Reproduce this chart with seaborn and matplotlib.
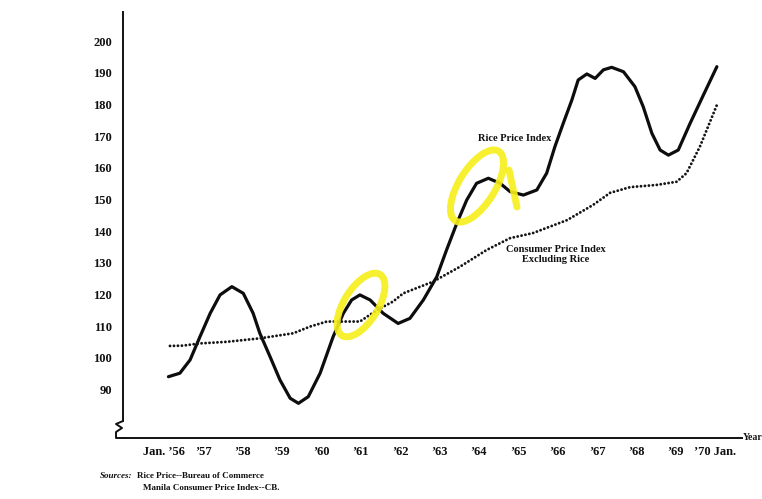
import seaborn as sns
import matplotlib.pyplot as plt
from matplotlib.patches import Ellipse
from matplotlib.transforms import Affine2D

# values (x = decimal year, y = index)
rice_year = [1956.62, 1956.91, 1957.17, 1957.42, 1957.68, 1957.93, 1958.23, 1958.52,
             1958.77, 1958.94, 1959.20, 1959.45, 1959.71, 1959.92, 1960.17, 1960.47,
             1960.80, 1961.06, 1961.27, 1961.48, 1961.74, 1962.07, 1962.45, 1962.75,
             1963.09, 1963.43, 1963.68, 1963.94, 1964.19, 1964.44, 1964.74, 1965.04,
             1965.29, 1965.63, 1965.97, 1966.22, 1966.43, 1966.64, 1966.86, 1967.02,
             1967.24, 1967.45, 1967.66, 1967.87, 1968.17, 1968.46, 1968.67, 1968.89,
             1969.10, 1969.31, 1969.56, 1969.86, 1970.20, 1970.54]
rice_index = [94.1, 95.2, 99.4, 106.7, 114.1, 119.9, 122.5, 120.4,
              114.1, 107.8, 100.4, 93.1, 87.3, 85.7, 87.8, 95.2,
              106.7, 114.1, 118.3, 119.9, 118.3, 114.1, 110.9, 112.5,
              118.3, 125.6, 134.1, 142.5, 149.8, 155.1, 156.7, 155.1,
              152.5, 151.4, 153.0, 158.3, 166.7, 174.0, 181.4, 187.7,
              189.6, 188.2, 190.9, 191.7, 190.3, 185.6, 179.3, 170.9,
              165.6, 164.0, 165.6, 174.0, 183.0, 191.9]

cpi_year = [1956.66, 1956.99, 1957.42, 1958.10, 1958.94, 1959.79, 1960.21, 1960.64,
            1961.48, 1961.91, 1962.32, 1962.58, 1963.34, 1964.02, 1964.70, 1965.29,
            1965.87, 1966.74, 1967.40, 1967.83, 1968.34, 1969.01, 1969.52, 1969.77,
            1970.11, 1970.54]
cpi_index = [103.8, 103.9, 104.6, 105.1, 106.2, 107.8, 109.9, 111.5,
             111.5, 115.1, 117.8, 120.4, 124.1, 128.8, 134.1, 137.8,
             139.4, 143.5, 148.3, 152.1, 153.9, 154.6, 155.6, 158.3,
             166.7, 179.8]

year_ticks = list(range(1956, 1972))
year_label_pos = [y + 0.5 for y in range(1956, 1971)]
year_labels = ["Jan. ’56", "’57", "’58", "’59", "’60", "’61", "’62", "’63",
               "’64", "’65", "’66", "’67", "’68", "’69", "’70 Jan."]
y_ticks = list(range(90, 201, 10))

sns.set_theme(style="white")
plt.rcParams["font.family"] = ["Liberation Serif", "DejaVu Serif"]

fig = plt.figure(figsize=(7.62, 4.99), dpi=100)
ax = fig.add_axes([123 / 762, 61 / 499, 619 / 762, 426 / 499])

sns.lineplot(x=rice_year, y=rice_index, color="#0d0d0d", linewidth=2.3,
             solid_joinstyle="round", solid_capstyle="round", ax=ax)
sns.lineplot(x=cpi_year, y=cpi_index, color="#151515", linewidth=2.1,
             linestyle=(0, (0.01, 1.35)), dash_capstyle="round", ax=ax)

ax.set_xlim(1955.467, 1971.178)
ax.set_ylim(74.76, 209.15)

for s in ["top", "right"]:
    ax.spines[s].set_visible(False)
for s in ["left", "bottom"]:
    ax.spines[s].set_color("#111111")
    ax.spines[s].set_linewidth(1.4)
ax.spines["left"].set_bounds(80.1, 209.15)

ax.set_yticks(y_ticks)
ax.set_yticklabels([str(v) for v in y_ticks], fontweight="bold")
ax.set_xticks(year_ticks)
ax.set_xticklabels([])
ax.set_xticks(year_label_pos, minor=True)
ax.set_xticklabels(year_labels, minor=True, fontweight="bold")
ax.tick_params(which="major", direction="in", length=4.5, width=1.2, color="#111111",
               labelsize=9, labelcolor="#111111")
ax.tick_params(axis="y", pad=8)
ax.tick_params(axis="x", which="minor", length=0, pad=6, labelsize=9, labelcolor="#111111")
ax.set_xlabel("")
ax.set_ylabel("")

# axis break at the foot of the y axis
ax.plot([0, -0.0113, -0.0016, -0.0113, -0.0113, 0],
        [0.0399, 0.0329, 0.0235, 0.0141, 0, 0],
        transform=ax.transAxes, color="#111111", lw=1.4, clip_on=False)

ax.text(1965.42, 169.4, "Rice Price Index", ha="center", va="center",
        fontsize=7.5, fontweight="bold", color="#111111")
ax.text(1966.46, 132.5, "Consumer Price Index\nExcluding Rice", ha="center",
        va="center", fontsize=7.5, fontweight="bold", color="#111111", linespacing=1.15)

fig.text(743 / 762, 1 - 438 / 499, "Year", ha="left", va="center", fontsize=7,
         fontweight="bold", color="#111111")
fig.text(100 / 762, 1 - 476 / 499, "Sources:", ha="left", va="center", fontsize=6.5,
         style="italic", fontweight="bold", color="#111111")
fig.text(137 / 762, 1 - 476 / 499, "Rice Price--Bureau of Commerce", ha="left",
         va="center", fontsize=6.5, fontweight="bold", color="#111111")
fig.text(143 / 762, 1 - 488 / 499, "Manila Consumer Price Index--CB.", ha="left",
         va="center", fontsize=6.5, fontweight="bold", color="#111111")

# yellow highlighter marks on the scan
px = Affine2D().scale(1 / 762, 1 / 499) + fig.transFigure
for cx, cy, w, h, ang in [(361, 305, 72, 34, 58), (477, 186, 82, 36, 58)]:
    fig.patches.append(Ellipse((cx, 499 - cy), w, h, angle=ang, fill=False,
                               edgecolor="#f6ef1a", lw=5, alpha=0.9, transform=px))
fig.lines.append(plt.Line2D([509, 517], [499 - 170, 499 - 207], color="#f6ef1a",
                            lw=5, alpha=0.9, transform=px))

fig.savefig("out.png", dpi=100)
